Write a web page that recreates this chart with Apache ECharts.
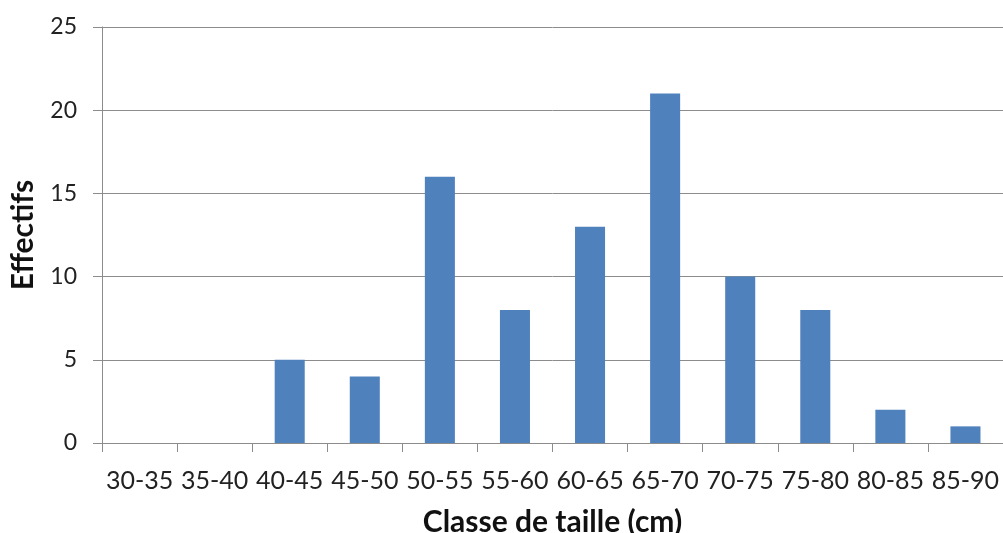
<!DOCTYPE html>
<html>
<head>
<meta charset="utf-8">
<script src="https://cdn.jsdelivr.net/npm/echarts@6/dist/echarts.min.js"></script>
<style>
  html, body { margin: 0; padding: 0; background: #fff; }
  #chart { width: 1003px; height: 533px; }
</style>
</head>
<body>
<div id="chart"></div>
<script>
// Size classes (cm) and counts per class
const classes = ['30-35', '35-40', '40-45', '45-50', '50-55', '55-60', '60-65', '65-70', '70-75', '75-80', '80-85', '85-90'];
const effectifs = [0, 0, 5, 4, 16, 8, 13, 21, 10, 8, 2, 1];
const yTicks = { min: 0, max: 25, interval: 5 };

const FONT = 'Lato, "Open Sans", sans-serif';
const GRID_GRAY = '#8c8c8c';

const chart = echarts.init(document.getElementById('chart'), null, { renderer: 'canvas' });
chart.setOption({
  animation: false,
  grid: {
    left: 102, right: 0, top: 27, bottom: 90,
    containLabel: false,
    outerBoundsMode: 'none'   // fixed plot box; the axis title may touch the bottom edge
  },
  xAxis: {
    type: 'category',
    data: classes,
    name: 'Classe de taille (cm)',
    nameLocation: 'middle',
    nameGap: 64,
    nameTextStyle: { fontFamily: FONT, fontSize: 30, fontWeight: 'bold', color: '#111' },
    axisLine: { lineStyle: { color: GRID_GRAY, width: 1 } },
    axisTick: { show: true, alignWithLabel: false, length: 9, lineStyle: { color: GRID_GRAY } },
    axisLabel: { fontFamily: FONT, fontSize: 25, color: '#222', margin: 25, interval: 0 }
  },
  yAxis: {
    type: 'value',
    min: yTicks.min,
    max: yTicks.max,
    interval: yTicks.interval,
    name: 'Effectifs',
    nameLocation: 'middle',
    nameGap: 64,
    nameTextStyle: { fontFamily: FONT, fontSize: 30, fontWeight: 'bold', color: '#111' },
    axisLine: { show: true, lineStyle: { color: GRID_GRAY, width: 1 } },
    axisTick: { show: true, length: 9, lineStyle: { color: GRID_GRAY } },
    axisLabel: { fontFamily: FONT, fontSize: 23, color: '#222', margin: 25 },
    splitLine: { show: true, lineStyle: { color: GRID_GRAY, width: 1 } }
  },
  series: [{
    type: 'bar',
    data: effectifs,
    barCategoryGap: '60%',
    itemStyle: { color: '#4f81bd' }
  }]
});
</script>
</body>
</html>
